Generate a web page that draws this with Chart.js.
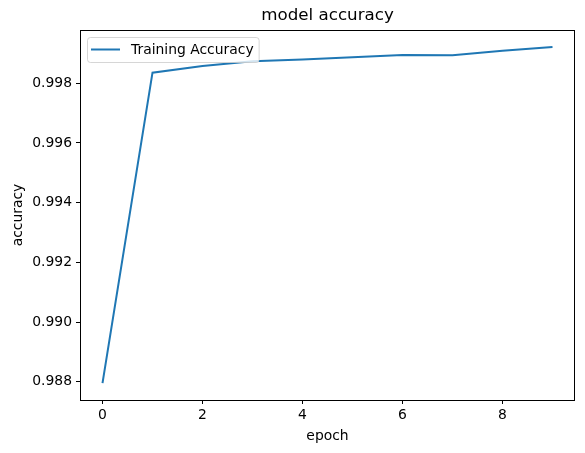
<!DOCTYPE html>
<html>
<head>
<meta charset="utf-8">
<script src="https://cdn.jsdelivr.net/npm/chart.js@4/dist/chart.umd.min.js"></script>
<style>
html,body{margin:0;padding:0;background:#fff;}
#wrap{width:585px;height:453px;}
</style>
</head>
<body>
<div id="wrap"><canvas id="c" width="585" height="453"></canvas></div>
<script>
const epochs = [0,1,2,3,4,5,6,7,8,9];
const trainingAccuracy = [0.98795,0.998355,0.99858,0.99874,0.99880,0.99887,0.99895,0.99894,0.99909,0.99922];
const xTicks = [0,2,4,6,8];
const yTicks = [0.988,0.990,0.992,0.994,0.996,0.998];
const chartTitle = 'model accuracy';

const FONT = "'DejaVu Sans', sans-serif";

const frame = {
  id:'frame',
  afterDatasetsDraw(chart){
    const a = chart.chartArea, ctx = chart.ctx;
    ctx.save();
    ctx.strokeStyle = '#000'; ctx.lineWidth = 1;
    ctx.strokeRect(Math.round(a.left)+0.5, Math.round(a.top)+0.5, Math.round(a.right-a.left)-1, Math.round(a.bottom-a.top));
    ctx.restore();
  }
};

const axesTitle = {
  id:'axesTitle',
  afterDraw(chart){
    const a = chart.chartArea, ctx = chart.ctx;
    ctx.save();
    ctx.font = "16.7px " + FONT;
    ctx.fillStyle = '#000'; ctx.textAlign = 'center'; ctx.textBaseline = 'middle';
    ctx.fillText(chartTitle, (a.left + a.right)/2, 16);
    ctx.restore();
  }
};

const innerLegend = {
  id:'innerLegend',
  afterDraw(chart){
    const a = chart.chartArea, ctx = chart.ctx;
    const ds = chart.data.datasets[0];
    ctx.save();
    ctx.font = "13.9px " + FONT;
    const tw = ctx.measureText(ds.label).width;
    const x = a.left + 7, y = a.top + 7;
    const w = 44 + tw + 5, h = 25;
    ctx.beginPath();
    if (ctx.roundRect) ctx.roundRect(x+0.5, y+0.5, w, h, 3); else ctx.rect(x+0.5,y+0.5,w,h);
    ctx.fillStyle = 'rgba(255,255,255,0.8)'; ctx.fill();
    ctx.strokeStyle = 'rgba(204,204,204,0.8)'; ctx.lineWidth = 1; ctx.stroke();
    ctx.beginPath();
    ctx.moveTo(x+4, y+12.5); ctx.lineTo(x+33, y+12.5);
    ctx.strokeStyle = ds.borderColor; ctx.lineWidth = 2; ctx.stroke();
    ctx.fillStyle = '#000'; ctx.textBaseline = 'middle'; ctx.textAlign = 'left';
    ctx.fillText(ds.label, x+44, y+13);
    ctx.restore();
  }
};

new Chart(document.getElementById('c'), {
  type:'line',
  data:{
    labels: epochs,
    datasets:[{
      label:'Training Accuracy',
      data: epochs.map((e,i)=>({x:e, y:trainingAccuracy[i]})),
      borderColor:'#1f77b4',
      borderWidth:2,
      pointRadius:0,
      tension:0,
      fill:false
    }]
  },
  options:{
    responsive:false,
    animation:false,
    devicePixelRatio:1,
    layout:{padding:{left:0,right:10,top:30,bottom:0}},
    plugins:{
      legend:{display:false},
      tooltip:{enabled:false},
      title:{display:false}
    },
    scales:{
      x:{
        type:'linear', min:-0.45, max:9.45,
        afterBuildTicks(s){ s.ticks = xTicks.map(v=>({value:v})); },
        afterFit(s){ s.height = 53; },
        grid:{display:true, drawOnChartArea:false, drawTicks:true, tickLength:4, color:'#000'},
        border:{display:false},
        ticks:{color:'#000', font:{family:FONT,size:13.9}, padding:3, maxRotation:0,
          callback:v=>String(v)},
        title:{display:true, text:'epoch', color:'#000', font:{family:FONT,size:13.9}, padding:{top:0,bottom:8}}
      },
      y:{
        type:'linear', min:0.987387, max:0.999786,
        afterBuildTicks(s){ s.ticks = yTicks.map(v=>({value:v})); },
        afterFit(s){ s.width = 80; },
        grid:{display:true, drawOnChartArea:false, drawTicks:true, tickLength:4, color:'#000'},
        border:{display:false},
        ticks:{color:'#000', font:{family:FONT,size:13.9}, padding:4,
          callback:v=>Number(v).toFixed(3)},
        title:{display:true, text:'accuracy', color:'#000', font:{family:FONT,size:13.9}, padding:{top:10,bottom:0}}
      }
    }
  },
  plugins:[frame, axesTitle, innerLegend]
});
</script>
</body>
</html>
